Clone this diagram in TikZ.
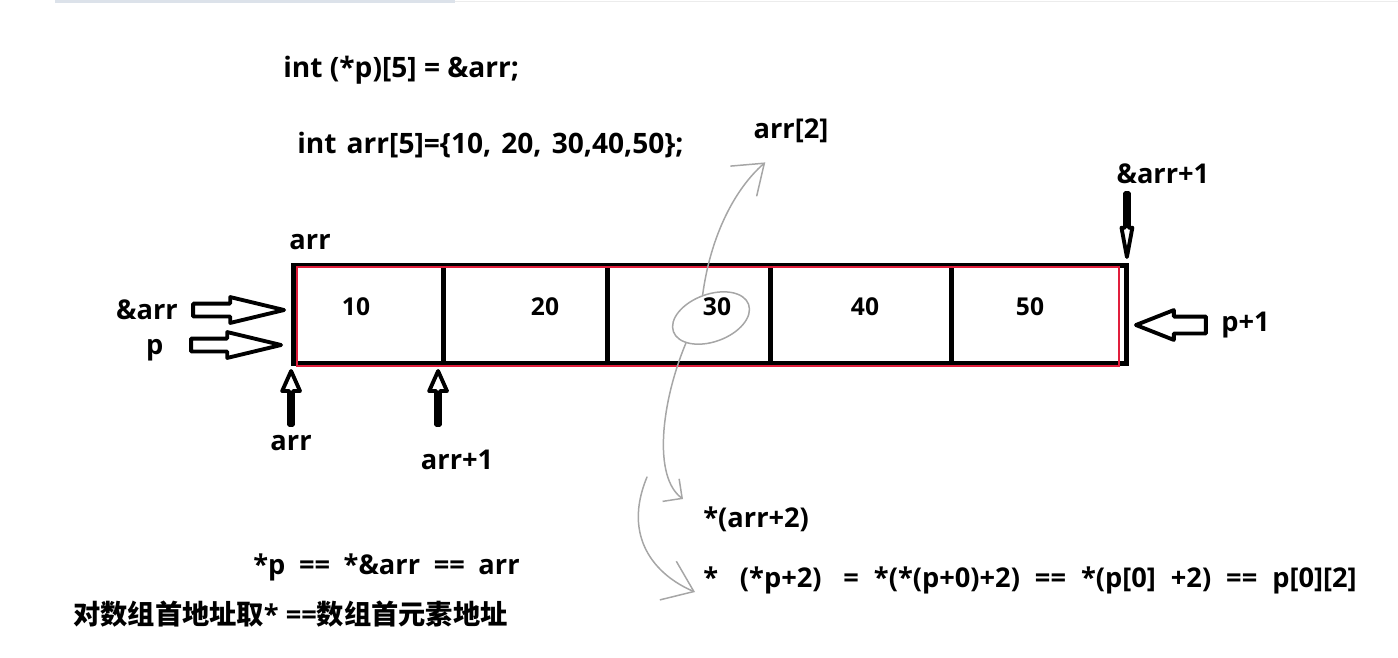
\documentclass[tikz,border=0pt]{standalone}
\usepackage{fontspec}
\setmainfont{Open Sans}
\newfontfamily\cjk{Noto Sans CJK SC}
\usepackage{tikz}
\usetikzlibrary{positioning}
\usetikzlibrary{shapes.geometric}
\usetikzlibrary{shapes.arrows}
\usetikzlibrary{calc}
\usetikzlibrary{arrows.meta}
\definecolor{markred}{RGB}{225,30,60}
\definecolor{tabline}{RGB}{220,226,234}
\tikzset{
    lbl/.style = {font=\fontsize{#1}{#1}\selectfont\bfseries,inner sep=0pt},
    lbl/.default = 15.5,
    spaced/.style = {execute at begin node={\spaceskip=#1\relax}},
    arrbox/.style = {rectangle,draw,line width=2.85pt,outer sep=0pt,minimum width=16.68cm,minimum height=1.96cm},
    hollow/.style n args = {4}{single arrow,draw,line width=2.2pt,line join=round,outer sep=0pt,inner xsep=0pt,
        inner ysep=#1,single arrow head extend=#2,single arrow tip angle=#3,minimum height=#4},
    sketch/.style = {draw=gray!70,line width=0.85pt,line cap=round}}

\begin{document}
\begin{tikzpicture}[x=0.02cm,y=-0.02cm]
    \useasboundingbox (0,0) rectangle (1398,657);
    \fill[tabline] (55,0) rectangle (455,3);
    \draw[gray!15,line width=0.4pt] (455,1) -- (1398,1);

    \node[lbl=16,anchor=west] (decl) at (283,70) {int (*p)[5] = \&arr;};
    \node[lbl=16,spaced=0.36em,anchor=west] (init) at (297,145) {int arr[5]=\{10, 20, 30,40,50\};};

    \node[arrbox] (arr) at (710,314) {};
    \foreach \x in {443,607,770,951}
        \draw[line width=2.85pt] (\x,0 |- arr.north) -- (\x,0 |- arr.south);
    \draw[markred,line width=0.8pt] ($(arr.north west)+(4,2)$) rectangle ($(arr.south east)+(-8,3)$);
    \foreach \x/\v in {356/10,545/20,717/30,865/40,1030/50}
        \node[lbl=14] (c\v) at (\x,307) {\v};
    \node[lbl,anchor=south west] (name) at ($(arr.north west)+(-4,-15)$) {arr};

    \node[hollow={0.09cm}{0.13cm}{27}{1.82cm},anchor=tip] (A) at ($(arr.west)+(-9,-4)$) {};
    \node[hollow={0.09cm}{0.13cm}{27}{1.80cm},anchor=tip] (P) at ($(arr.south west)+(-12,-18)$) {};
    \node[hollow={0.13cm}{0.13cm}{43}{1.40cm},anchor=tip,shape border rotate=180] (P1) at ($(arr.east)+(9,11)$) {};
    \node[hollow={0.06cm}{0.07cm}{21}{1.28cm},anchor=tip,shape border rotate=270] (A1) at ($(arr.north east)+(0,-8)$) {};
    \node[hollow={0.11cm}{0.14cm}{48}{1.08cm},anchor=tip,shape border rotate=90] (U0) at ($(arr.south west)+(-2,8)$) {};
    \node[hollow={0.11cm}{0.14cm}{48}{1.08cm},anchor=tip,shape border rotate=90] (U1) at ($(arr.south west)+(145,8)$) {};

    \node[lbl,left=0.3cm of A.tail] (lA) {\&arr};
    \node[lbl,left=0.55cm of P.tail,yshift=-0.1cm] (lP) {p};
    \node[lbl,right=0.3cm of P1.tail] (lP1) {p+1};
    \node[lbl] (lA1) at ($(A1.tail)+(36,-19)$) {\&arr+1};
    \node[lbl,below=0.2cm of U0.tail] (lU0) {arr};
    \node[lbl,below=0.5cm of U1.tail,xshift=0.38cm] (lU1) {arr+1};

    \node[sketch,ellipse,minimum width=1.6cm,minimum height=0.95cm,rotate=20] (e30) at (711,318) {};
    \node[lbl] (arr2) at (791,131) {arr[2]};
    \node[lbl,anchor=west] (deref) at (703,519) {*(arr+2)};
    \node[lbl,spaced=0.55em,anchor=west] (chain) at (703,580) {*\hspace{0.8em}(*p+2)\hspace{0.8em}= *(*(p+0)+2) == *(p[0] +2) == p[0][2]};
    \node[lbl,spaced=0.5em,anchor=east] (eq) at (520,567) {*p == *\&arr == arr};
    \node[lbl,anchor=west] (note) at (73,614) {{\cjk 对数组首地址取}* =={\cjk 数组首元素地址}};
    \coordinate (bend) at (647,477);

    \draw[sketch,-{Straight Barb[length=0.55cm,width=0.8cm]}] (e30.north) .. controls +(8,-60) and +(-30,26) .. ($(arr2.south west)+(12,19)$);
    \draw[sketch,-{Straight Barb[length=0.28cm,width=0.56cm]}] (e30.205) .. controls +(-25,60) and +(-30,-22) .. ($(deref.west)+(-20,-20)$);
    \draw[sketch,-{Straight Barb[length=0.56cm,width=0.84cm]}] (bend) .. controls +(-25,60) and +(-40,-17) .. ($(chain.west)+(-8,12)$);
\end{tikzpicture}
\end{document}
